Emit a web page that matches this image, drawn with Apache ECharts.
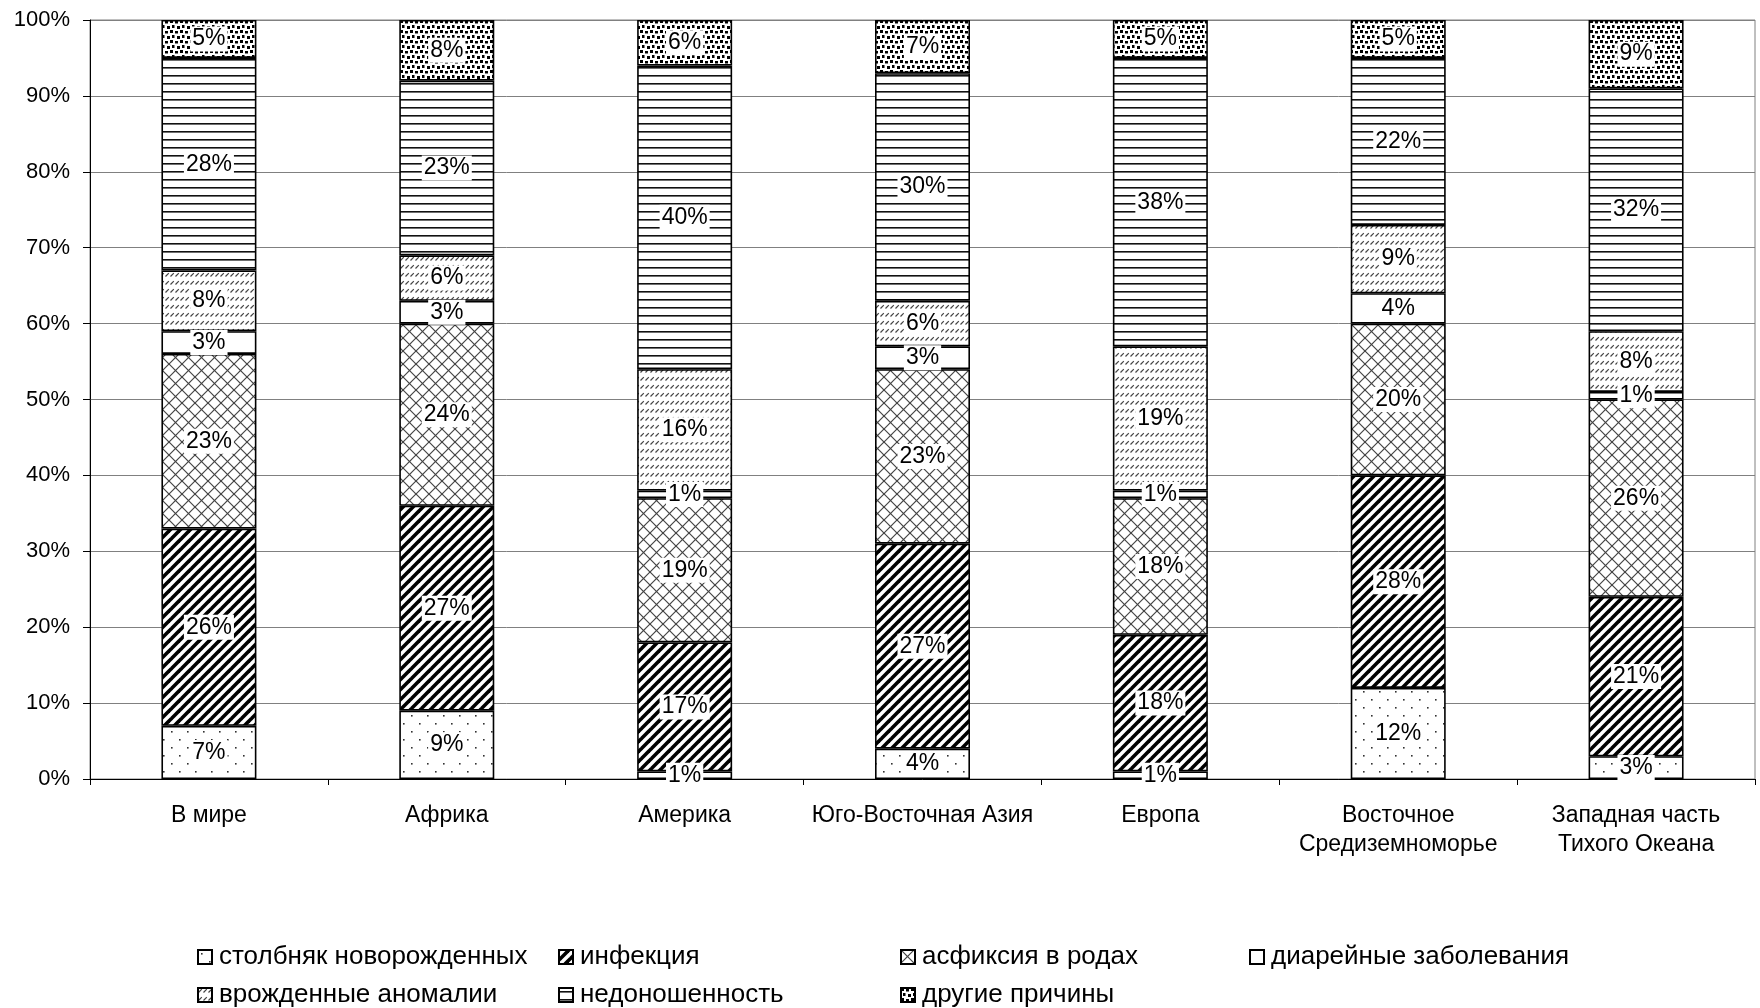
<!DOCTYPE html>
<html>
<head>
<meta charset="utf-8">
<script src="https://cdn.jsdelivr.net/npm/echarts@6/dist/echarts.min.js"></script>
<style>
  html, body { margin: 0; padding: 0; background: #fff; }
  #chart { width: 1760px; height: 1008px; }
</style>
</head>
<body>
<div id="chart"></div>
<script>
// регионы
var regions = ['В мире', 'Африка', 'Америка', 'Юго-Восточная Азия', 'Европа',
  'Восточное\nСредиземноморье', 'Западная часть\nТихого Океана'];

// доли причин, % (снизу вверх)
var tetanus   = [7, 9, 1, 4, 1, 12, 3];
var infection = [26, 27, 17, 27, 18, 28, 21];
var asphyxia  = [23, 24, 19, 23, 18, 20, 26];
var diarrhea  = [3, 3, 1, 3, 1, 4, 1];
var anomalies = [8, 6, 16, 6, 19, 9, 8];
var preterm   = [28, 23, 40, 30, 38, 22, 32];
var other     = [5, 8, 6, 7, 5, 5, 9];

var yTicks = [0, 10, 20, 30, 40, 50, 60, 70, 80, 90, 100];

var names = ['столбняк новорожденных', 'инфекция', 'асфиксия в родах', 'диарейные заболевания',
  'врожденные аномалии', 'недоношенность', 'другие причины'];

function pattern (w, h, draw) {
  var c = document.createElement('canvas');
  c.width = w; c.height = h;
  var ctx = c.getContext('2d');
  ctx.fillStyle = '#fff';
  ctx.fillRect(0, 0, w, h);
  draw(ctx);
  return { image: c, repeat: 'repeat' };
}

function line (ctx, x1, y1, x2, y2) {
  ctx.beginPath(); ctx.moveTo(x1, y1); ctx.lineTo(x2, y2); ctx.stroke();
}

var fills = [
  // редкие точки
  pattern(16, 16, function (ctx) {
    ctx.fillStyle = '#333';
    ctx.fillRect(3, 3, 1.6, 1.6);
    ctx.fillRect(11, 11, 1.6, 1.6);
  }),
  // толстая диагональ
  pattern(10, 10, function (ctx) {
    ctx.strokeStyle = '#000'; ctx.lineWidth = 3.6;
    line(ctx, -5, 5, 5, -5);
    line(ctx, 0, 10, 10, 0);
    line(ctx, 5, 15, 15, 5);
  }),
  // сетка
  pattern(13, 13, function (ctx) {
    ctx.strokeStyle = '#444'; ctx.lineWidth = 1.2;
    line(ctx, 0, 0, 13, 13);
    line(ctx, 0, 13, 13, 0);
    line(ctx, -6.5, 6.5, 6.5, 19.5);
    line(ctx, 6.5, -6.5, 19.5, 6.5);
    line(ctx, -6.5, 6.5, 6.5, -6.5);
    line(ctx, 6.5, 19.5, 19.5, 6.5);
  }),
  '#fff',
  // штрихи
  pattern(5, 8, function (ctx) {
    ctx.strokeStyle = '#444'; ctx.lineWidth = 1.2;
    line(ctx, 0.5, 4.5, 3.8, 1.2);
  }),
  // горизонтальные линии
  pattern(8, 8, function (ctx) {
    ctx.fillStyle = '#111';
    ctx.fillRect(0, 3, 8, 1.6);
  }),
  // плотные точки
  pattern(10, 10, function (ctx) {
    ctx.fillStyle = '#000';
    ctx.fillRect(0, 0, 3, 3);
    ctx.fillRect(5, 1, 3, 2.5);
    ctx.fillRect(2, 5, 2.5, 3);
    ctx.fillRect(7, 6, 3, 3);
  })
];

var values = [tetanus, infection, asphyxia, diarrhea, anomalies, preterm, other];

var font = '"Liberation Sans", Arial, sans-serif';

var series = [];
values.forEach(function (item, index) {
  series.push({
    name: names[index],
    type: 'bar',
    stack: 'total',
    barWidth: 95,
    data: item,
    itemStyle: {
      color: fills[index],
      borderColor: '#000',
      borderWidth: 1.6
    },
    label: {
      show: true,
      position: 'inside',
      formatter: '{c}%',
      fontFamily: font,
      fontSize: 23,
      color: '#000',
      backgroundColor: '#fff',
      padding: [1, 2]
    },
    emphasis: { disabled: true }
  });
});

// позиции элементов легенды: 4 колонки, 2 строки
var legendCols = [197, 558, 900, 1249];
var legendRows = [944, 982];
var legends = names.map(function (n, i) {
  return {
    data: [n],
    left: legendCols[i % 4],
    top: legendRows[Math.floor(i / 4)],
    icon: 'rect',
    itemWidth: 14,
    itemHeight: 14,
    itemGap: 0,
    padding: 0,
    selectedMode: false,
    textStyle: { fontFamily: font, fontSize: 26, color: '#000', padding: [0, 0, 0, 2] }
  };
});

var chart = echarts.init(document.getElementById('chart'), null, { renderer: 'canvas' });
chart.setOption({
  animation: false,
  backgroundColor: '#fff',
  grid: {
    left: 90,
    right: 5,
    top: 20,
    bottom: 229,
    show: true,
    borderColor: '#808080',
    borderWidth: 1
  },
  legend: legends,
  xAxis: {
    type: 'category',
    data: regions,
    axisLine: { lineStyle: { color: '#000', width: 1 } },
    axisTick: { show: true, length: 6, lineStyle: { color: '#000' } },
    axisLabel: {
      interval: 0,
      margin: 22,
      fontFamily: font,
      fontSize: 23,
      lineHeight: 29,
      color: '#000'
    }
  },
  yAxis: {
    type: 'value',
    min: yTicks[0],
    max: yTicks[yTicks.length - 1],
    interval: 10,
    axisLine: { show: true, lineStyle: { color: '#000', width: 1 } },
    axisTick: { show: true, length: 7, lineStyle: { color: '#000' } },
    axisLabel: {
      formatter: '{value}%',
      margin: 20,
      fontFamily: font,
      fontSize: 22,
      color: '#000'
    },
    splitLine: { lineStyle: { color: '#808080', width: 1 } }
  },
  series: series
});
</script>
</body>
</html>
